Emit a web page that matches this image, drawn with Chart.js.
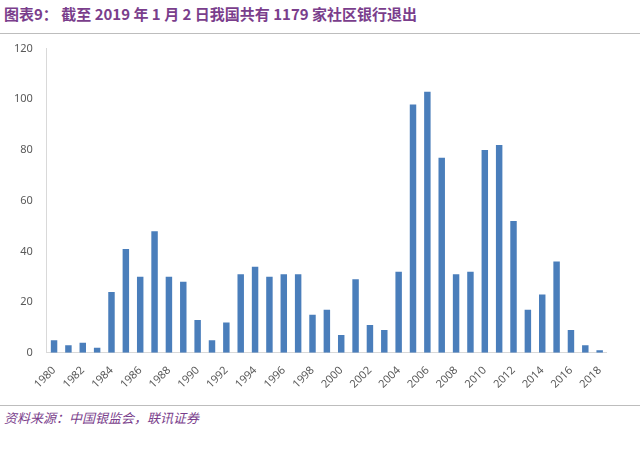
<!DOCTYPE html>
<html>
<head>
<meta charset="utf-8">
<script src="https://cdn.jsdelivr.net/npm/chart.js@4"></script>
<style>
  body { margin: 0; background: #fff; font-family: "Noto Sans CJK SC", sans-serif; }
  #wrap { position: relative; width: 640px; height: 456px; }
  .title { position: absolute; left: 4px; top: 3px; font-size: 15px; font-weight: bold; color: #7a3e8c; }
  .rule { position: absolute; left: 0; width: 640px; height: 1px; background: #bdbdbd; }
  .src { position: absolute; left: 4px; top: 408px; font-size: 13px; font-style: italic; color: #7a3e8c; }
  #box { position: absolute; left: 0; top: 36px; width: 612px; height: 358px; }
</style>
</head>
<body>
<div id="wrap">
  <div class="title">图表9： 截至 2019 年 1 月 2 日我国共有 1179 家社区银行退出</div>
  <div class="rule" style="top:33px"></div>
  <div id="box"><canvas id="chart"></canvas></div>
  <div class="rule" style="top:405px"></div>
  <div class="src">资料来源：中国银监会，联讯证券</div>
</div>
<script>
// years 1980–2018
const years = [];
for (let y = 1980; y <= 2018; y++) years.push(String(y));
const exits = [5, 3, 4, 2, 24, 41, 30, 48, 30, 28, 13, 5, 12, 31, 34, 30, 31, 31, 15, 17,
  7, 29, 11, 9, 32, 98, 103, 77, 31, 32, 80, 82, 52, 17, 23, 36, 9, 3, 1];
const yTicks = [0, 20, 40, 60, 80, 100, 120];

new Chart(document.getElementById('chart'), {
  type: 'bar',
  data: {
    labels: years,
    datasets: [{ data: exits, backgroundColor: '#4a7ebb', categoryPercentage: 0.75, barPercentage: 0.6 }]
  },
  options: {
    responsive: true, maintainAspectRatio: false, animation: false,
    layout: { padding: { left: 8, right: 0, top: 4, bottom: 0 } },
    plugins: { legend: { display: false }, tooltip: { enabled: false } },
    scales: {
      x: {
        grid: { display: false },
        border: { color: '#d9d9d9' },
        ticks: {
          color: '#595959', font: { size: 11, family: 'Noto Sans' },
          maxRotation: 45, minRotation: 45, autoSkip: false,
          callback: (v, i) => i % 2 === 0 ? years[i] : ''
        }
      },
      y: {
        min: 0, max: 120,
        afterBuildTicks: ax => { ax.ticks = yTicks.map(v => ({ value: v })); },
        grid: { display: false },
        border: { color: '#d9d9d9' },
        ticks: { color: '#595959', font: { size: 11, family: 'Noto Sans' }, padding: 6 }
      }
    }
  }
});
</script>
</body>
</html>
